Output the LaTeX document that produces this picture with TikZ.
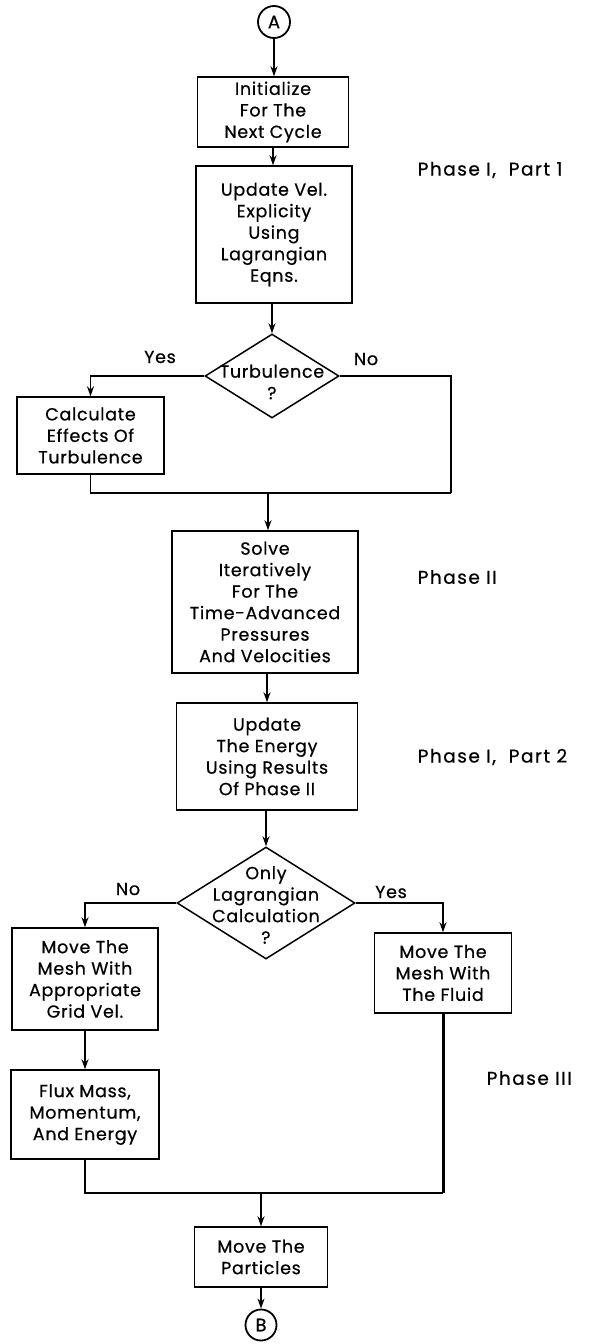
\documentclass[tikz,border=0pt]{standalone}
\usepackage{fontspec}
\setmainfont{Poppins}
\newfontfamily\lettering{Poppins}[LetterSpace=4,FakeBold=0.6]
\newfontfamily\phasefont{Poppins}[LetterSpace=8,FakeBold=0.6]
\usetikzlibrary{shapes.geometric,arrows.meta}
\begin{document}
\begin{tikzpicture}[x=1pt,y=-1pt,line width=1.5pt,
  txt/.style={font=\lettering\fontsize{17.5}{21.5}\selectfont},
  box/.style={draw,rectangle,inner sep=0pt,align=center,txt},
  dia/.style={draw,diamond,inner sep=0pt},
  lbl/.style={inner sep=0pt,align=center,txt},
  phase/.style={inner sep=0pt,anchor=west,font=\phasefont\fontsize{18.5}{22}\selectfont},
  conn/.style={circle,draw,line width=1.8pt,minimum size=32pt,inner sep=0pt,font=\lettering\fontsize{18}{20}\selectfont},
  arr/.style={-{Stealth[length=10pt,width=7pt]}},
  thick line/.style={line width=3pt}]
\useasboundingbox (0,0) rectangle (600,1344);
% top
\node[conn] (cA) at (274,22) {A};
\node[box,minimum width=151pt,minimum height=70pt] (b1) at (273,112) {Initialize\\For The\\Next Cycle};
\node[box,minimum width=156pt,minimum height=137pt] (b2) at (274,234.5) {Update Vel.\\Explicity\\Using\\Lagrangian\\Eqns.};
\node[dia,minimum width=134pt,minimum height=84pt] (d1) at (272,376) {};
\node[lbl] (t1) at (272,382) {Turbulence\\?};
\node[lbl] (yes1) at (160,357) {Yes};
\node[lbl] (no1) at (366,359) {No};
\node[box,minimum width=147pt,minimum height=77pt] (b3) at (90.5,435.5) {Calculate\\Effects Of\\Turbulence};
\coordinate (m1r) at (451,493);
\coordinate (m1) at (268,493);
% phase II
\node[box,minimum width=186pt,minimum height=142pt] (b4) at (265,602) {Solve\\Iteratively\\For The\\Time-Advanced\\Pressures\\And Velocities};
\node[box,minimum width=181pt,minimum height=107pt] (b5) at (267,756.5) {Update\\The Energy\\Using Results\\Of Phase II};
\node[dia,minimum width=178pt,minimum height=112pt] (d2) at (266,903) {};
\node[lbl] (t2) at (266,905) {Only\\Lagrangian\\Calculation\\?};
\node[lbl] (no2) at (128,889) {No};
\node[lbl] (yes2) at (391,892) {Yes};
\node[box,minimum width=146pt,minimum height=102pt] (bL1) at (85,979) {Move The\\Mesh With\\Appropriate\\Grid Vel.};
\node[box,minimum width=148pt,minimum height=89pt] (bL2) at (85,1114.5) {Flux Mass,\\Momentum,\\And Energy};
\node[box,minimum width=137pt,minimum height=80pt] (bR) at (443,973) {Move The\\Mesh With\\The Fluid};
\coordinate (m2r) at (443,1193);
\coordinate (m2) at (261,1193);
\node[box,minimum width=133pt,minimum height=60pt] (b6) at (261,1257) {Move The\\Particles};
\node[conn,minimum size=31pt] (cB) at (261,1325) {B};
% phase labels
\node[phase] (p1) at (417,170) {Phase I,\ \ Part 1};
\node[phase] (p2) at (417,577) {Phase II};
\node[phase] (p3) at (417,757) {Phase I,\ \ Part 2};
\node[phase] (p4) at (486,1078) {Phase III};
% connectors
\draw[arr] (cA.south) -- (cA.south |- b1.north);
\draw[arr] (b1.south) -- (b1.south |- b2.north);
\draw[arr] (b2.south -| d1.north) -- (d1.north);
\draw[arr] (d1.west) -| (b3.north);
\draw (d1.east) -| (m1r);
\draw (b3.south) |- (m1r);
\draw[arr] (m1) -- (m1 |- b4.north);
\draw[arr] (b4.south -| b5.north) -- (b5.north);
\draw[arr] (b5.south -| d2.north) -- (d2.north);
\draw[arr] (d2.west) -| (bL1.north);
\draw[arr] (bL1.south) -- (bL1.south |- bL2.north);
\draw[arr] (d2.east) -| (bR.north);
\draw[thick line] (bR.south) -- (m2r);
\draw (bL2.south) |- (m2r);
\draw[arr] (m2) -- (b6.north);
\draw[arr] (b6.south) -- (cB.north);
\end{tikzpicture}
\end{document}
